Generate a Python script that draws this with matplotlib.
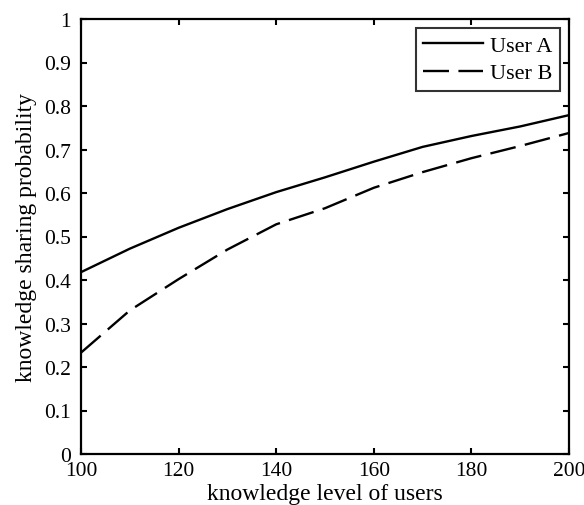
import matplotlib
matplotlib.use("Agg")
import matplotlib.pyplot as plt
import numpy as np

knowledge_level = [100, 110, 120, 130, 140, 150, 160, 170, 180, 190, 200]
user_a = [0.418, 0.472, 0.520, 0.563, 0.602, 0.636, 0.672, 0.706, 0.731, 0.753, 0.779]
user_b = [0.233, 0.330, 0.402, 0.470, 0.528, 0.565, 0.612, 0.648, 0.680, 0.708, 0.738]
x_ticks = [100, 120, 140, 160, 180, 200]
y_ticks = [0, 0.1, 0.2, 0.3, 0.4, 0.5, 0.6, 0.7, 0.8, 0.9, 1]
y_tick_labels = ["0", "0.1", "0.2", "0.3", "0.4", "0.5", "0.6", "0.7", "0.8", "0.9", "1"]

plt.rcParams['font.family'] = ['Liberation Serif', 'DejaVu Serif']
fs_tick = 15.5
fs_label = 17

fig = plt.figure(figsize=(5.84, 5.06), dpi=100)
ax = fig.add_axes([81/584, 1 - 455/506, (569-81)/584, (455-20)/506])

ax.plot(knowledge_level, user_a, color='black', lw=1.7, label='User A')
ax.plot(knowledge_level, user_b, color='black', lw=1.7, dashes=(11, 4), label='User B')

ax.set_xlim(100, 200)
ax.set_ylim(0, 1)
ax.set_xticks(x_ticks)
ax.set_xticklabels([str(t) for t in x_ticks])
ax.set_yticks(y_ticks)
ax.set_yticklabels(y_tick_labels)
ax.tick_params(direction='in', length=4, width=1.5, top=True, right=True,
               labelsize=fs_tick, colors='black')
ax.tick_params(axis='y', pad=7)
ax.tick_params(axis='x', pad=5)
for s in ax.spines.values():
    s.set_linewidth(1.6)

ax.set_xlabel('knowledge level of users', fontsize=fs_label, labelpad=2)
ax.set_ylabel('knowledge sharing probability', fontsize=fs_label, labelpad=5)

leg = ax.legend(loc='upper right', fontsize=16, frameon=True, fancybox=False,
                edgecolor='black', handlelength=2.7, handletextpad=0.3,
                borderpad=0.35, labelspacing=0.3, borderaxespad=0.4)
leg.get_frame().set_linewidth(1.5)

fig.savefig('out.png', dpi=100)
